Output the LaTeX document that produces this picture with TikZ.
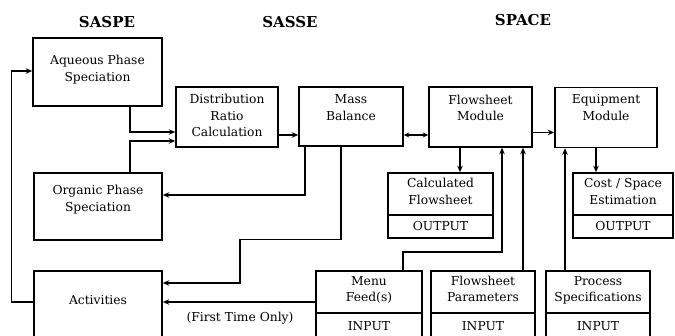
\documentclass[tikz,border=0pt]{standalone}
\usepackage{fontspec}
\setmainfont{DejaVu Serif}
\usetikzlibrary{arrows.meta}
\newcommand{\lft}[2]{\raisebox{#1}[\height][\depth]{\begin{tabular}{@{}c@{}}#2\end{tabular}}}
\begin{document}
\begin{tikzpicture}[x=1pt,y=-1pt,
  font=\fontsize{12.3}{16.5}\selectfont,
  box/.style={draw, line width=1.5pt, inner sep=0pt},
  conn/.style={line width=1.5pt, -{Stealth[length=6.5pt,width=5.5pt]}},
  both/.style={line width=1.5pt, {Stealth[length=5.5pt,width=5pt]}-{Stealth[length=5.5pt,width=5pt]}},
  head/.style={font=\fontsize{15}{18}\selectfont\bfseries}]
\useasboundingbox (0,0) rectangle (675,336);
\clip (0,0) rectangle (675,336);
% headings
\node[head] (h1) at (107,22) {SASPE};
\node[head] (h2) at (290,22) {SASSE};
\node[head] (h3) at (523,20) {SPACE};
% boxes
\node[box, minimum width=129pt, minimum height=68pt] (aq) at (97.5,72) {\lft{2.5pt}{Aqueous Phase\\Speciation}};
\node[box, minimum width=102pt, minimum height=60pt] (dist) at (227,117) {\lft{0pt}{Distribution\\Ratio\\Calculation}};
\node[box, minimum width=104pt, minimum height=59pt] (mass) at (351,116.5) {\lft{8pt}{Mass\\Balance}};
\node[box, minimum width=103pt, minimum height=60pt] (flow) at (480.5,117) {\lft{8pt}{Flowsheet\\Module}};
\node[box, minimum width=102pt, minimum height=60pt] (equip) at (606,117.5) {\lft{9pt}{Equipment\\Module}};
\node[box, minimum width=128pt, minimum height=67pt] (org) at (98,206.5) {\lft{7pt}{Organic Phase\\Speciation}};
\node[box, minimum width=128pt, minimum height=74pt] (act) at (98,308) {\lft{7pt}{Activities}};
% outputs
\node[box, minimum width=105pt, minimum height=42pt] (calc) at (440.5,194) {\lft{1.5pt}{Calculated\\Flowsheet}};
\node[box, minimum width=105pt, minimum height=23pt] (calcout) at (440.5,226.5) {OUTPUT};
\node[box, minimum width=100pt, minimum height=42pt] (cost) at (623,194) {\lft{1.5pt}{Cost / Space\\Estimation}};
\node[box, minimum width=100pt, minimum height=23pt] (costout) at (623,226.5) {OUTPUT};
% inputs
\node[box, minimum width=106pt, minimum height=42pt] (menu) at (369,292) {\lft{2pt}{Menu\\Feed(s)}};
\node[box, minimum width=106pt, minimum height=32pt] (menuin) at (369,329) {\lft{2pt}{INPUT}};
\node[box, minimum width=104pt, minimum height=42pt] (fpar) at (483,292) {\lft{2pt}{Flowsheet\\Parameters}};
\node[box, minimum width=104pt, minimum height=32pt] (fparin) at (483,329) {\lft{2pt}{INPUT}};
\node[box, minimum width=104pt, minimum height=42pt] (pspec) at (598,292) {\lft{2pt}{Process\\Specifications}};
\node[box, minimum width=104pt, minimum height=32pt] (pspecin) at (598,329) {\lft{2pt}{INPUT}};
% label
\node (ftl) at (240,318) {(First Time Only)};
% connectors
\draw[conn] ([xshift=32.5pt]aq.south) |- ([yshift=-15pt]dist.west);
\draw[conn] ([xshift=32pt]org.north) |- ([yshift=-24pt]dist.west);
\draw[conn] ([yshift=-18pt]dist.east) -- ([yshift=-18.5pt]mass.west);
\draw[conn] ([xshift=-46pt]mass.south) |- ([yshift=11.5pt]org.east);
\draw[conn] ([xshift=-10pt]mass.south) -- ++(0,93) -- ++(-101,0) |- ([yshift=25pt]act.east);
\draw[both] ([yshift=-18.5pt]mass.east) -- ([yshift=-18pt]flow.west);
\draw[conn] ([yshift=-15.5pt]flow.east) -- ([yshift=-15pt]equip.west);
\draw[conn] ([xshift=-20.5pt]flow.south) -- ([xshift=-20.5pt]flow.south |- calc.north);
\draw[conn] ([xshift=-10pt]equip.south) -- ([xshift=-10pt]equip.south |- cost.north);
\draw[conn] ([xshift=34pt]menu.north) -- ++(0,-18) -| ([xshift=21.5pt]flow.south);
\draw[conn] ([xshift=40pt]fpar.north) -- ([xshift=40pt]fpar.north |- flow.south);
\draw[conn] ([xshift=-33pt]pspec.north) -- ([xshift=-33pt]pspec.north |- equip.south);
\draw[conn] ([yshift=-10pt]menu.west) -- ([yshift=-10pt]menu.west -| act.east);
\draw[conn] ([yshift=6pt]act.west) -- ++(-22,0) |- ([yshift=1pt]aq.west);
\end{tikzpicture}
\end{document}
